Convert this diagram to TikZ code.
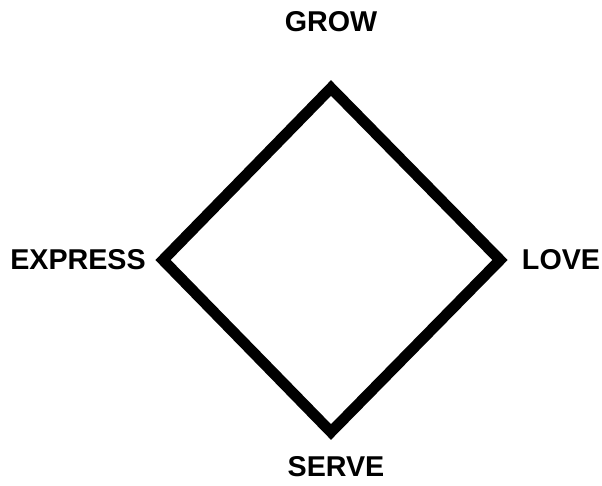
\documentclass[tikz,border=0pt]{standalone}
\usepackage{fontspec}
\setmainfont{Liberation Sans}
\usetikzlibrary{positioning}

\begin{document}
\begin{tikzpicture}[x=0.75pt, y=-0.75pt,
    every node/.style={font=\bfseries\fontsize{21.5}{26}\selectfont, inner sep=0pt},
    edge/.style={line width=8.2pt, miter limit=10}]
      \useasboundingbox (0,0) rectangle (602,485);
      % corners of the diamond
      \coordinate (grow) at (331,88);
      \coordinate (love) at (500,260);
      \coordinate (serve) at (331,432);
      \coordinate (express) at (163,260);
      \draw[edge] (grow) -- (love) -- (serve) -- (express) -- cycle;
      % labels
      \node (growlbl) at (331,22) {GROW};
      \node (lovelbl) at (561,260) {LOVE};
      \node (servelbl) at (336,467) {SERVE};
      \node (expresslbl) at (78,260) {EXPRESS};
    \end{tikzpicture}
\end{document}
